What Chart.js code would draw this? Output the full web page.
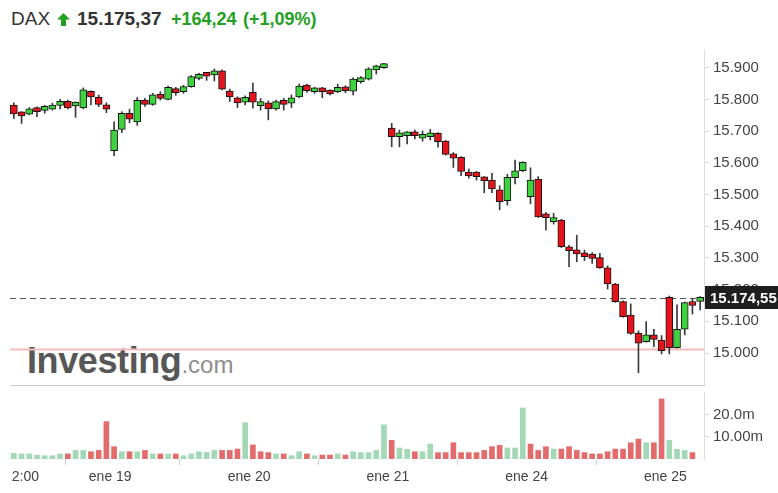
<!DOCTYPE html>
<html><head><meta charset="utf-8">
<script src="https://cdn.jsdelivr.net/npm/chart.js@4.4.1/dist/chart.umd.min.js"></script>
<style>
html,body{margin:0;padding:0;background:#fff;}
body{width:778px;height:493px;position:relative;overflow:hidden;font-family:"Liberation Sans",Arial,sans-serif;}
.h{position:absolute;white-space:nowrap;line-height:20px;top:9px;}
#nm{left:11px;font-size:19px;color:#333;}
#px{left:77px;font-size:19px;font-weight:bold;color:#333;}
#ch1{left:171px;font-size:18px;font-weight:bold;color:#22a022;}
#ch2{left:243px;font-size:18px;font-weight:bold;color:#22a022;}
#arr{position:absolute;left:57px;top:13px;}
#wm{position:absolute;left:27px;top:340px;white-space:nowrap;z-index:0;}
#wm .a{font-size:36px;font-weight:bold;color:#575757;letter-spacing:-0.4px;}
#wm .b{font-size:24px;color:#8c8c8c;}
canvas{position:absolute;z-index:1;}
#pc{left:10px;top:40px;}
#vc{left:10px;top:386px;clip-path:polygon(0 0,100% 0,100% 100%,2px 100%,2px 74px,0 74px);}
</style></head>
<body>
<div class="h" id="nm">DAX</div>
<svg id="arr" width="13" height="13" viewBox="0 0 13 13"><polygon points="6.5,0 13,6.5 9,6.5 9,13 4,13 4,6.5 0,6.5" fill="#22a022"/></svg>
<div class="h" id="px">15.175,37</div>
<div class="h" id="ch1">+164,24</div>
<div class="h" id="ch2">(+1,09%)</div>
<div id="wm"><span class="a">Investing</span><span class="b">.com</span></div>
<canvas id="pc" width="768" height="346"></canvas>
<canvas id="vc" width="768" height="107"></canvas>
<script>
// ---- categories: 30-minute candles per trading day ----
const dayNames  = ['ene 18','ene 19','ene 20','ene 21','ene 24','ene 25'];
const dayStarts = ['11:30','09:00','09:00','09:00','09:00','09:00'];
const dayCounts = [13, 18, 18, 18, 18, 5];

// ---- OHLC series ----
const open  = [15783,15757,15754,15771,15766,15770,15782,15795,15780,15774,15826,15807,15784,
  15639,15706,15757,15730,15799,15785,15815,15801,15835,15825,15841,15867,15881,15878,15891,15827,15806,15792,
  15823,15781,15790,15771,15796,15789,15809,15846,15825,15836,15827,15825,15839,15827,15857,15865,15894,15901,
  15710,15683,15686,15697,15678,15683,15694,15669,15629,15618,15571,15571,15555,15546,15515,15481,15554,15576,
  15494,15549,15436,15415,15420,15334,15325,15315,15309,15301,15269,15218,15162,15120,15062,15036,15057,15041,
  15176,15017,15075,15159,15163];
const high  = [15790,15762,15775,15777,15782,15789,15801,15799,15793,15837,15828,15815,15790,
  15730,15762,15770,15807,15804,15820,15825,15843,15839,15845,15876,15883,15886,15897,15894,15833,15809,15812,
  15852,15804,15796,15799,15804,15815,15849,15849,15839,15839,15831,15849,15844,15869,15873,15901,15909,15915,
  15725,15704,15699,15704,15701,15706,15696,15672,15633,15620,15581,15573,15557,15567,15528,15564,15609,15604,
  15585,15557,15444,15441,15422,15340,15372,15325,15317,15315,15275,15220,15165,15155,15070,15099,15075,15055,
  15180,15152,15161,15173,15178];
const low   = [15741,15725,15752,15746,15757,15767,15771,15771,15744,15771,15783,15778,15759,
  15623,15696,15727,15719,15779,15782,15799,15799,15814,15820,15839,15862,15861,15859,15831,15794,15775,15783,
  15773,15767,15736,15767,15767,15775,15806,15823,15820,15806,15815,15822,15822,15815,15852,15862,15881,15899,
  15651,15651,15660,15676,15669,15673,15650,15625,15586,15560,15552,15546,15506,15506,15452,15467,15534,15573,
  15471,15428,15388,15407,15333,15273,15288,15292,15283,15267,15202,15160,15113,15059,14938,15034,15020,14997,
  14997,15015,15057,15123,15136];
const close = [15755,15749,15771,15762,15776,15780,15795,15774,15789,15831,15809,15785,15770,
  15704,15757,15738,15798,15785,15815,15804,15839,15822,15841,15873,15878,15874,15888,15833,15809,15790,15807,
  15792,15790,15771,15794,15785,15806,15843,15828,15836,15825,15818,15839,15828,15865,15867,15897,15902,15909,
  15683,15694,15697,15686,15688,15694,15667,15627,15615,15573,15559,15557,15544,15518,15478,15555,15575,15602,
  15546,15430,15427,15423,15336,15323,15313,15304,15299,15269,15218,15162,15115,15062,15031,15057,15043,15007,
  15017,15075,15159,15150,15174.55];

// ---- volume (millions), last candle has no bar ----
const volume = [2.6,2.3,2.3,1.7,1.5,1.5,2.3,2.3,3.9,3.9,3.3,3.9,17,
  5.6,3.3,3.3,3.3,3.9,2.3,2.3,2.3,2.3,1.5,2.3,3.3,3.0,3.9,3.9,3.9,4.5,16.5,
  6.4,3.3,2.9,2.3,2.3,1.5,3.3,2.3,1.5,1.8,1.8,2.3,1.8,3.3,2.9,2.9,3.9,15.5,
  8.5,5.0,4.4,3.3,3.3,6.8,2.9,2.9,7.4,2.9,2.9,2.9,3.9,5.6,6.2,5.0,5.0,23.2,
  6.8,3.9,5.6,4.5,4.5,5.6,3.9,2.9,2.3,2.3,3.3,4.5,4.5,7.4,9.1,7.4,7.4,27.3,
  8.5,4.4,3.9,2.9,null];
const volumeUp = [1,1,1,1,1,1,1,0,1,1,0,0,0,
  0,1,0,1,0,1,0,1,0,1,1,1,1,1,0,0,0,1,
  0,0,0,1,0,1,1,0,1,0,0,1,0,1,1,1,1,1,
  0,1,1,0,1,1,0,0,0,0,0,0,0,0,0,1,1,1,
  0,0,0,1,0,0,0,0,0,0,0,0,0,0,0,1,0,0,
  1,1,1,0,0];

// ---- reference levels and tick labels ----
const lastPrice = 15174.55, lastPriceLabel = '15.174,55';
const prevClose = 15011.13;
const priceTicks = [15000,15100,15200,15300,15400,15500,15600,15700,15800,15900];
const priceTickLabels = ['15.000','15.100','15.200','15.300','15.400','15.500','15.600','15.700','15.800','15.900'];
const priceRange = [14895.8, 15956.8];
const volTicks = [10, 20];
const volTickLabels = ['10.00m', '20.0m'];
const volRange = [0, 30.45];
const xTickLabels = ['12:00','ene 19','ene 20','ene 21','ene 24','ene 25'];

// build category list
const categories = [];
const dayFirstIndex = [];
dayNames.forEach((d, k) => {
  let [hh, mm] = dayStarts[k].split(':').map(Number);
  dayFirstIndex.push(categories.length);
  for (let j = 0; j < dayCounts[k]; j++) {
    categories.push(d + ' ' + String(hh).padStart(2,'0') + ':' + String(mm).padStart(2,'0'));
    mm += 30; if (mm >= 60) { mm -= 60; hh++; }
  }
});
// x tick positions: first label at its category, others at day boundaries
const xTickPos = [categories.indexOf('ene 18 12:00')].concat(dayFirstIndex.slice(1).map(i => i - 0.5));

const FONT = '"Liberation Sans", Arial, sans-serif';
const GREEN = '#3fd13f', RED = '#e3141b';
const xMin = -0.5, xMax = categories.length - 0.5;

const priceLines = {
  id: 'priceLines',
  beforeDatasetsDraw(chart) {
    const {ctx, chartArea: a, scales: {y}} = chart;
    ctx.save();
    const yp = Math.round(y.getPixelForValue(prevClose)) + 0.5;
    ctx.strokeStyle = '#f6bcbc'; ctx.lineWidth = 2;
    ctx.beginPath(); ctx.moveTo(a.left, yp); ctx.lineTo(a.right, yp); ctx.stroke();
    const yl = Math.round(y.getPixelForValue(lastPrice)) + 0.5;
    ctx.strokeStyle = '#555'; ctx.lineWidth = 1; ctx.setLineDash([6, 4]);
    ctx.beginPath(); ctx.moveTo(a.left, yl); ctx.lineTo(a.right, yl); ctx.stroke();
    ctx.setLineDash([]);
    ctx.strokeStyle = '#c9c9c9';
    ctx.beginPath(); ctx.moveTo(a.left, a.bottom - 0.5); ctx.lineTo(a.right + 1, a.bottom - 0.5); ctx.stroke();
    ctx.restore();
  },
  afterDraw(chart) {
    const {ctx, chartArea: a, scales: {y}} = chart;
    const yl = y.getPixelForValue(lastPrice);
    ctx.save();
    ctx.fillStyle = '#1e1e1e';
    ctx.fillRect(a.right + 1, Math.round(yl - 11.5), chart.width - a.right - 1, 23);
    ctx.fillStyle = '#fff';
    ctx.font = 'bold 15px ' + FONT;
    ctx.textBaseline = 'middle'; ctx.textAlign = 'left';
    ctx.fillText(lastPriceLabel, a.right + 6, yl + 1);
    ctx.restore();
  }
};

new Chart(document.getElementById('pc'), {
  type: 'bar',
  data: {
    labels: categories,
    datasets: [
      {
        label: 'wick',
        data: categories.map((c, i) => ({x: i, y: [low[i], high[i]]})),
        backgroundColor: '#3a3a3a', borderWidth: 0,
        barThickness: 1, grouped: false, order: 2
      },
      {
        label: 'body',
        data: categories.map((c, i) => ({x: i, y: [Math.min(open[i], close[i]), Math.max(open[i], close[i])]})),
        backgroundColor: categories.map((c, i) => close[i] >= open[i] ? GREEN : RED),
        borderColor: '#141414', borderWidth: 1, borderSkipped: false,
        barThickness: 7, minBarLength: 4, grouped: false, order: 1
      }
    ]
  },
  options: {
    responsive: false, animation: false, devicePixelRatio: 1,
    layout: {padding: {left: 0, right: 0, top: 10, bottom: 0}},
    plugins: {legend: {display: false}, tooltip: {enabled: false}},
    scales: {
      x: {type: 'linear', min: xMin, max: xMax, offset: false, display: false},
      y: {
        position: 'right', min: priceRange[0], max: priceRange[1],
        afterBuildTicks: s => { s.ticks = priceTicks.map(v => ({value: v})); },
        afterFit: s => { s.width = 74; s.paddingTop = 0; s.paddingBottom = 0; },
        ticks: {
          callback: (v) => priceTickLabels[priceTicks.indexOf(v)],
          font: {family: FONT, size: 15}, color: '#444', padding: 4
        },
        grid: {drawOnChartArea: false, tickLength: 5, color: '#d6d6d6'},
        border: {display: true, color: '#dcdcdc'}
      }
    }
  },
  plugins: [priceLines]
});

new Chart(document.getElementById('vc'), {
  type: 'bar',
  data: {
    labels: categories,
    datasets: [{
      label: 'volume',
      data: categories.map((c, i) => ({x: i, y: volume[i]})),
      backgroundColor: categories.map((c, i) => volumeUp[i] ? '#a3d8b6' : '#e26c6c'),
      borderWidth: 0, barThickness: 5
    }]
  },
  options: {
    responsive: false, animation: false, devicePixelRatio: 1,
    layout: {padding: {left: 0, right: 0, top: 6, bottom: 0}},
    plugins: {legend: {display: false}, tooltip: {enabled: false}},
    scales: {
      x: {
        type: 'linear', min: xMin, max: xMax, offset: false,
        afterBuildTicks: s => { s.ticks = xTickPos.map(v => ({value: v})); },
        afterFit: s => { s.height = 34; s.paddingLeft = 0; s.paddingRight = 0; },
        ticks: {
          autoSkip: false, maxRotation: 0,
          callback: (v) => xTickLabels[xTickPos.indexOf(v)],
          font: {family: FONT, size: 14}, color: '#444', padding: 4
        },
        grid: {drawOnChartArea: false, tickLength: 6, color: '#d0d0d0'},
        border: {display: false}
      },
      y: {
        position: 'right', min: volRange[0], max: volRange[1],
        afterBuildTicks: s => { s.ticks = volTicks.map(v => ({value: v})); },
        afterFit: s => { s.width = 74; s.paddingTop = 0; s.paddingBottom = 0; },
        ticks: {
          callback: (v) => volTickLabels[volTicks.indexOf(v)],
          font: {family: FONT, size: 15}, color: '#444', padding: 4
        },
        grid: {drawOnChartArea: false, tickLength: 5, color: '#d6d6d6'},
        border: {display: true, color: '#dcdcdc'}
      }
    }
  }
});
</script>
</body></html>
